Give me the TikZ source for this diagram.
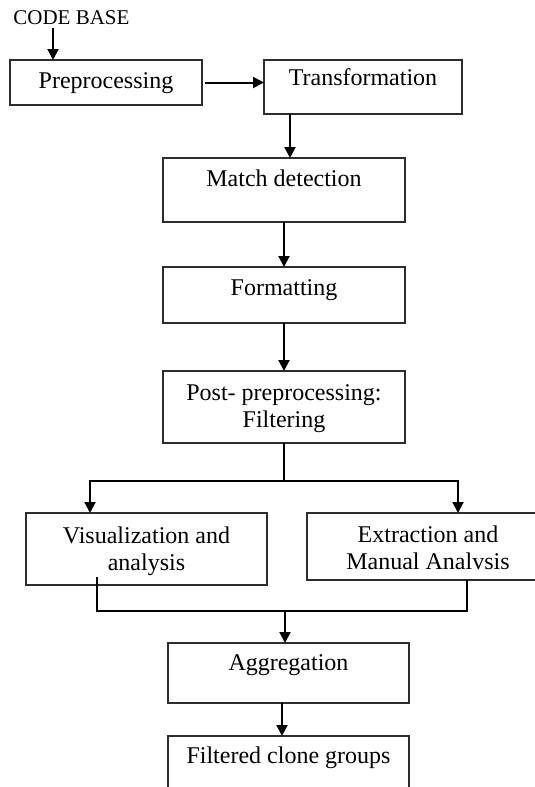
\documentclass[tikz,border=0pt]{standalone}
\usepackage{fontspec}
\setmainfont{Liberation Serif}
\usetikzlibrary{arrows.meta,positioning}
\definecolor{BoxLine}{RGB}{45,45,45}
\tikzset{
  stage/.style={draw=BoxLine,line width=1pt,inner sep=0pt,outer sep=0pt,
    text height=14pt,align=center,font=\fontsize{12}{13.5}\selectfont},
  tag/.style={inner sep=0pt,font=\fontsize{10.5}{12}\selectfont},
  arrow/.style={-{Triangle[length=5.5pt,width=5.5pt]},line width=1pt},
  wire/.style={line width=1pt}
}

\begin{document}
\begin{tikzpicture}
      \useasboundingbox (0,0) rectangle (267.5pt,-393.5pt);
      \node[tag,anchor=base west] (code) at (6.5pt,-12.5pt) {CODE BASE};
      \node[stage,anchor=north west,minimum width=96pt,text depth=8.5pt]
        (prep) at (5pt,-30pt) {Preprocessing};
      \node[stage,right=31pt of prep.north east,anchor=north west,
        minimum width=99pt,text height=12.5pt,text depth=14.5pt] (trans)
        {Transformation};
      \node[stage,below=22pt of trans.south,xshift=-39.5pt,
        minimum width=121pt,text depth=18pt] (match) {Match detection};
      \node[stage,below=22.5pt of match,minimum width=121pt,
        text depth=14pt] (fmt) {Formatting};
      \node[stage,below=24pt of fmt,minimum width=121pt,
        text height=28pt,text depth=8pt] (post) {Post- preprocessing:\\Filtering};
      \node[stage,below=35pt of post,xshift=-68.75pt,minimum width=120.5pt,
        text height=28.5pt,text depth=7.5pt] (vis) {Visualization and\\analysis};
      \node[stage,right=20pt of vis.north east,anchor=north west,
        minimum width=121pt,text height=28pt,text depth=5.5pt] (extr)
        {Extraction and\\Manual Analvsis};
      \node[stage,below=29pt of vis,xshift=71pt,minimum width=120.5pt,
        text height=13.5pt,text depth=16.5pt] (aggr) {Aggregation};
      \node[stage,below=16.5pt of aggr,minimum width=120.5pt,
        text height=13.5pt,text depth=16.5pt] (filt) {Filtered clone groups};

      \draw[arrow] ([xshift=20pt,yshift=-1pt]code.south west)
        -- ([xshift=20pt]code.south west |- prep.north);
      \draw[arrow,shorten <=1.5pt] (prep.east) -- (prep.east -| trans.west);
      \draw[arrow] ([xshift=3pt]match.north |- trans.south)
        -- ([xshift=3pt]match.north);
      \draw[arrow] (match) -- (fmt);
      \draw[arrow] (fmt) -- (post);
      \coordinate[below=19pt of post.south] (split);
      \draw[wire] (post) -- (split);
      \draw[arrow] (split) -| ([xshift=-28.25pt]vis.north);
      \draw[arrow] (split) -| ([xshift=15pt]extr.north);
      \draw[wire] ([xshift=-24.75pt,yshift=4pt]vis.south)
        |- ([xshift=19.5pt,yshift=-15.5pt]extr.south)
        -- ([xshift=19.5pt]extr.south);
      \draw[arrow] ([xshift=-1.75pt,yshift=16pt]aggr.north)
        -- ([xshift=-1.75pt]aggr.north);
      \draw[arrow] ([xshift=-3.25pt]aggr.south) -- ([xshift=-3.25pt]filt.north);
    \end{tikzpicture}
\end{document}
